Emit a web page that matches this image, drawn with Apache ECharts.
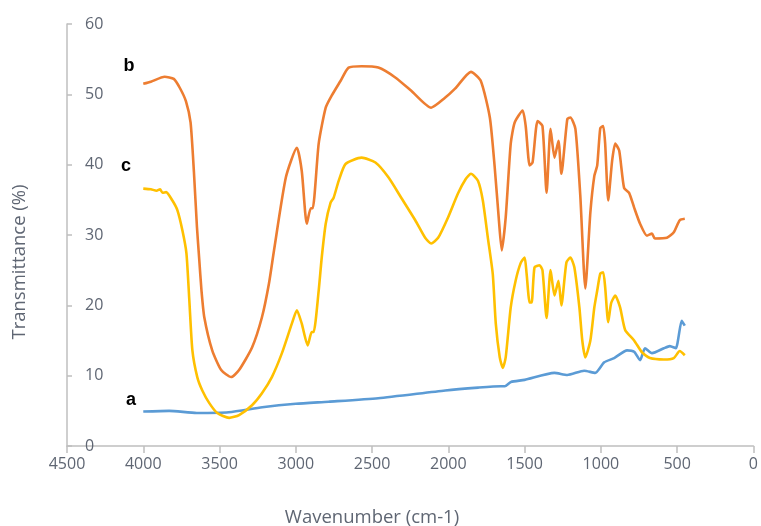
<!DOCTYPE html>
<html>
<head>
<meta charset="utf-8">
<title>FTIR spectra</title>
<script src="https://cdn.jsdelivr.net/npm/echarts@6/dist/echarts.min.js"></script>
<style>
  html, body { margin: 0; padding: 0; background: #fff; }
  #chart { width: 761px; height: 526px; }
</style>
</head>
<body>
<div id="chart"></div>
<script>
// Wavenumber (cm-1) / transmittance (%) pairs for each sample
const spectrumA = [
  [4000, 4.9], [3830, 5.0], [3650, 4.7], [3440, 4.8], [3220, 5.5], [3000, 6.0],
  [2785, 6.3], [2460, 6.8], [2020, 7.9], [1805, 8.3], [1656, 8.5], [1630, 8.5],
  [1590, 9.1], [1500, 9.4], [1305, 10.4], [1220, 10.1], [1110, 10.7], [1037, 10.4],
  [978, 11.9], [913, 12.5], [828, 13.6], [782, 13.4], [743, 12.2], [711, 13.9],
  [665, 13.2], [587, 13.9], [548, 14.2], [509, 13.9], [470, 17.8], [450, 17.1]
];

const spectrumB = [
  [4000, 51.5], [3950, 51.8], [3860, 52.5], [3800, 52.2], [3760, 50.9], [3720, 49.0],
  [3690, 46.0], [3668, 39.0], [3648, 31.1], [3633, 26.5], [3618, 22.0], [3600, 18.3],
  [3548, 13.6], [3489, 10.8], [3424, 9.8], [3372, 10.8], [3287, 14.0], [3222, 18.3],
  [3176, 23.1], [3143, 27.8], [3065, 38.2], [2993, 42.4], [2961, 39.1], [2928, 31.6],
  [2902, 33.8], [2889, 33.8], [2850, 43.0], [2804, 48.1], [2765, 49.8], [2707, 51.9],
  [2654, 53.8], [2569, 54.0], [2459, 53.8], [2348, 52.4], [2243, 50.5], [2113, 48.1],
  [2022, 49.5], [1956, 50.8], [1852, 53.2], [1787, 51.9], [1728, 46.7], [1696, 39.6],
  [1670, 32.5], [1650, 27.8], [1624, 32.5], [1591, 43.0], [1565, 46.0], [1513, 47.7],
  [1493, 45.5], [1467, 39.9], [1448, 40.3], [1415, 46.2], [1383, 45.5], [1356, 36.0],
  [1330, 45.1], [1304, 41.0], [1278, 43.4], [1259, 38.7], [1220, 46.5], [1200, 46.7],
  [1167, 45.1], [1135, 35.6], [1102, 22.4], [1069, 33.2], [1043, 38.4], [1024, 39.9],
  [1004, 45.2], [985, 45.5], [972, 43.0], [952, 34.9], [926, 40.6], [906, 43.0],
  [880, 42.0], [848, 36.7], [815, 36.0], [782, 33.9], [743, 31.6], [698, 29.9],
  [665, 30.2], [646, 29.5], [567, 29.6], [522, 30.4], [483, 32.1], [450, 32.3]
];

const spectrumC = [
  [4000, 36.6], [3950, 36.5], [3913, 36.3], [3890, 36.5], [3874, 36.0], [3850, 36.1],
  [3809, 34.9], [3776, 33.5], [3743, 30.6], [3717, 27.4], [3698, 20.7], [3678, 13.6],
  [3646, 9.8], [3613, 7.9], [3567, 6.1], [3515, 4.7], [3437, 4.0], [3372, 4.4],
  [3287, 5.8], [3222, 7.5], [3157, 9.8], [3091, 13.2], [3026, 17.4], [2993, 19.3],
  [2961, 17.4], [2922, 14.3], [2896, 16.2], [2883, 16.2], [2850, 22.1], [2830, 26.8],
  [2804, 31.6], [2772, 34.6], [2752, 35.3], [2719, 37.7], [2674, 40.1], [2569, 41.0],
  [2478, 40.3], [2393, 38.2], [2309, 35.3], [2217, 32.1], [2152, 29.6], [2113, 28.8],
  [2067, 29.6], [2002, 32.5], [1937, 35.9], [1885, 38.0], [1852, 38.7], [1806, 37.7],
  [1774, 34.9], [1741, 29.6], [1709, 24.5], [1689, 17.4], [1663, 12.6], [1643, 11.1],
  [1624, 12.6], [1591, 19.7], [1559, 23.5], [1526, 26.0], [1500, 26.8], [1487, 24.5],
  [1467, 20.4], [1454, 20.4], [1435, 25.4], [1402, 25.7], [1383, 25.0], [1356, 18.2],
  [1330, 25.0], [1304, 21.4], [1278, 23.5], [1259, 20.0], [1226, 26.1], [1200, 26.8],
  [1174, 25.4], [1141, 19.7], [1122, 15.0], [1102, 12.6], [1069, 15.0], [1043, 19.7],
  [1024, 22.1], [1004, 24.5], [985, 24.7], [972, 22.6], [952, 17.6], [933, 20.3],
  [906, 21.4], [874, 19.7], [841, 16.5], [782, 15.0], [730, 13.3], [678, 12.5],
  [587, 12.3], [522, 12.5], [483, 13.5], [450, 12.9]
];

// Curve tags, drawn next to the start of each trace
const curveTags = [
  { text: 'a', x: 131, y: 400 },
  { text: 'b', x: 129, y: 66 },
  { text: 'c', x: 126, y: 166 }
];

const xTicks = { min: 0, max: 4500, step: 500 };
const yTicks = { min: 0, max: 60, step: 10 };

const axisGrey = '#bfbfbf';
const labelGrey = '#5f6673';
const fontFamily = '"Open Sans", "Noto Sans", sans-serif';

const chart = echarts.init(document.getElementById('chart'), null, { renderer: 'canvas' });

function line(name, data, color) {
  return {
    name: name,
    type: 'line',
    data: data,
    showSymbol: false,
    smooth: 0.2,
    lineStyle: { color: color, width: 2.6 },
    itemStyle: { color: color },
    z: 3
  };
}

chart.setOption({
  animation: false,
  backgroundColor: '#fff',
  grid: { left: 67, right: 5, top: 24, bottom: 80 },
  xAxis: {
    type: 'value',
    inverse: true,
    min: xTicks.min,
    max: xTicks.max,
    interval: xTicks.step,
    axisLine: { show: true, onZero: false, lineStyle: { color: axisGrey, width: 1.5 } },
    axisTick: { show: true, length: 7, lineStyle: { color: axisGrey, width: 1.5 } },
    splitLine: { show: false },
    axisLabel: {
      color: labelGrey, fontSize: 16, fontFamily: fontFamily, margin: 10,
      formatter: v => String(v)
    }
  },
  yAxis: {
    type: 'value',
    position: 'left',
    min: yTicks.min,
    max: yTicks.max,
    interval: yTicks.step,
    axisLine: { show: true, onZero: false, lineStyle: { color: axisGrey, width: 1.5 } },
    axisTick: { show: true, inside: true, length: 5, lineStyle: { color: axisGrey, width: 1.5 } },
    splitLine: { show: false },
    axisLabel: {
      inside: true, color: labelGrey, fontSize: 16, fontFamily: fontFamily, margin: 18,
      formatter: v => String(v)
    }
  },
  series: [
    line('a', spectrumA, '#5b9bd5'),
    line('b', spectrumB, '#ed7d31'),
    line('c', spectrumC, '#ffc000')
  ],
  graphic: [
    {
      type: 'text',
      x: 372, y: 518,
      style: {
        text: 'Wavenumber (cm-1)',
        fill: labelGrey,
        font: '18.5px ' + fontFamily,
        textAlign: 'center',
        textVerticalAlign: 'middle'
      }
    },
    {
      type: 'text',
      x: 20, y: 262,
      rotation: Math.PI / 2,
      style: {
        text: 'Transmittance (%)',
        fill: labelGrey,
        font: '18.5px ' + fontFamily,
        textAlign: 'center',
        textVerticalAlign: 'middle'
      }
    }
  ].concat(curveTags.map(t => ({
    type: 'text',
    x: t.x, y: t.y,
    style: {
      text: t.text,
      fill: '#000',
      font: 'bold 18px "Liberation Sans", sans-serif',
      textAlign: 'center',
      textVerticalAlign: 'middle'
    }
  })))
});
</script>
</body>
</html>
